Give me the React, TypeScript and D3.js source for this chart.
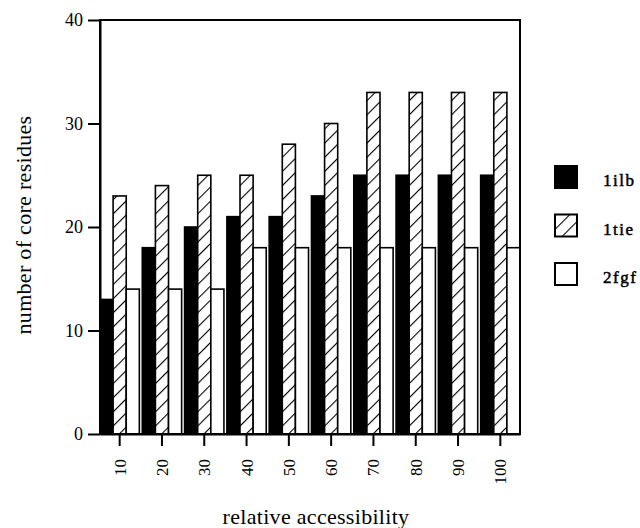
import React, { useEffect, useRef } from 'react';
import * as d3 from 'd3';

const categories = ['10', '20', '30', '40', '50', '60', '70', '80', '90', '100'];
const seriesNames = ['1ilb', '1tie', '2fgf'];
const values1ilb = [13, 18, 20, 21, 21, 23, 25, 25, 25, 25];
const values1tie = [23, 24, 25, 25, 28, 30, 33, 33, 33, 33];
const values2fgf = [14, 14, 14, 18, 18, 18, 18, 18, 18, 18];
const yTicks = [0, 10, 20, 30, 40];

const FONT = 'Liberation Serif, serif';

export default function App() {
    const ref = useRef<SVGSVGElement>(null);

    useEffect(() => {
        const width = 640;
        const height = 528;
        const left = 100, right = 520, top = 20, bottom = 434;

        const svg = d3.select(ref.current);
        svg.selectAll('*').remove();

        // hatch pattern for 1tie
        const defs = svg.append('defs');
        const pat = defs.append('pattern')
            .attr('id', 'hatch')
            .attr('patternUnits', 'userSpaceOnUse')
            .attr('width', 10)
            .attr('height', 10)
            .attr('patternTransform', 'rotate(45)');
        pat.append('rect').attr('width', 10).attr('height', 10).attr('fill', '#fff');
        pat.append('line')
            .attr('x1', 0).attr('y1', 0).attr('x2', 0).attr('y2', 10)
            .attr('stroke', '#000').attr('stroke-width', 2.2);

        const fills = ['#000', 'url(#hatch)', '#fff'];
        const allSeries = [values1ilb, values1tie, values2fgf];

        const x = d3.scaleBand().domain(categories).range([left, right]).paddingInner(0.07).paddingOuter(0);
        const xInner = d3.scaleBand().domain(seriesNames).range([0, x.bandwidth()]).padding(0);
        const y = d3.scaleLinear().domain([0, 40]).range([bottom, top]);

        const rows = categories.map((c, i) => seriesNames.map((s, j) => ({ cat: c, name: s, value: allSeries[j][i], fill: fills[j] })));

        // bars
        svg.append('g').selectAll('g')
            .data(rows)
            .join('g')
            .attr('transform', (d) => `translate(${x(d[0].cat)},0)`)
            .selectAll('rect')
            .data((d) => d)
            .join('rect')
            .attr('x', (d) => xInner(d.name)!)
            .attr('y', (d) => y(d.value))
            .attr('width', xInner.bandwidth())
            .attr('height', (d) => bottom - y(d.value))
            .attr('fill', (d) => d.fill)
            .attr('stroke', '#000')
            .attr('stroke-width', 1.6);

        // frame
        svg.append('rect')
            .attr('x', left).attr('y', top)
            .attr('width', right - left).attr('height', bottom - top)
            .attr('fill', 'none').attr('stroke', '#000').attr('stroke-width', 2);

        // y axis
        const yAxis = svg.append('g')
            .attr('transform', `translate(${left},0)`)
            .call(d3.axisLeft(y).tickValues(yTicks).tickSize(12).tickPadding(5).tickSizeOuter(0))
            .attr('font-family', FONT).attr('font-size', 18);
        yAxis.select('.domain').attr('stroke-width', 2);
        yAxis.selectAll('.tick line').attr('stroke-width', 2);
        yAxis.selectAll('.tick text').attr('fill', '#000');

        // x axis
        const xAxis = svg.append('g')
            .attr('transform', `translate(0,${bottom})`)
            .call(d3.axisBottom(x).tickSize(12).tickPadding(5).tickSizeOuter(0))
            .attr('font-family', FONT).attr('font-size', 17);
        xAxis.select('.domain').attr('stroke-width', 2);
        xAxis.selectAll('.tick line').attr('stroke-width', 2);
        xAxis.selectAll('.tick text')
            .attr('fill', '#000')
            .attr('transform', 'rotate(-90)')
            .attr('text-anchor', 'end')
            .attr('x', -25).attr('y', 0).attr('dy', '0.35em');

        // titles
        svg.append('text')
            .attr('x', 316).attr('y', 524)
            .attr('text-anchor', 'middle')
            .attr('font-family', FONT).attr('font-size', 22)
            .attr('letter-spacing', 0.3)
            .text('relative accessibility');

        svg.append('text')
            .attr('transform', 'translate(31,225) rotate(-90)')
            .attr('text-anchor', 'middle')
            .attr('font-family', FONT).attr('font-size', 22)
            .attr('letter-spacing', 0.3)
            .text('number of core residues');

        // legend
        const legend = svg.append('g').selectAll('g')
            .data(seriesNames)
            .join('g')
            .attr('transform', (d, i) => `translate(555,${166 + i * 48.5})`);
        legend.append('rect')
            .attr('width', 22).attr('height', 22)
            .attr('fill', (d, i) => (i === 0 ? '#000' : i === 1 ? 'url(#hatch)' : '#fff'))
            .attr('stroke', '#000').attr('stroke-width', 2);
        legend.append('text')
            .attr('x', 48).attr('y', 20)
            .attr('font-family', FONT).attr('font-size', 17)
            .attr('stroke', '#000').attr('stroke-width', 0.5)
            .attr('letter-spacing', 1.5)
            .text((d) => d);

        svg.attr('width', width).attr('height', height);
    }, []);

    return (
        <svg ref={ref} width={640} height={528}
            style={{ position: 'absolute', left: 0, top: 0, background: '#fff' }} />
    );
}
